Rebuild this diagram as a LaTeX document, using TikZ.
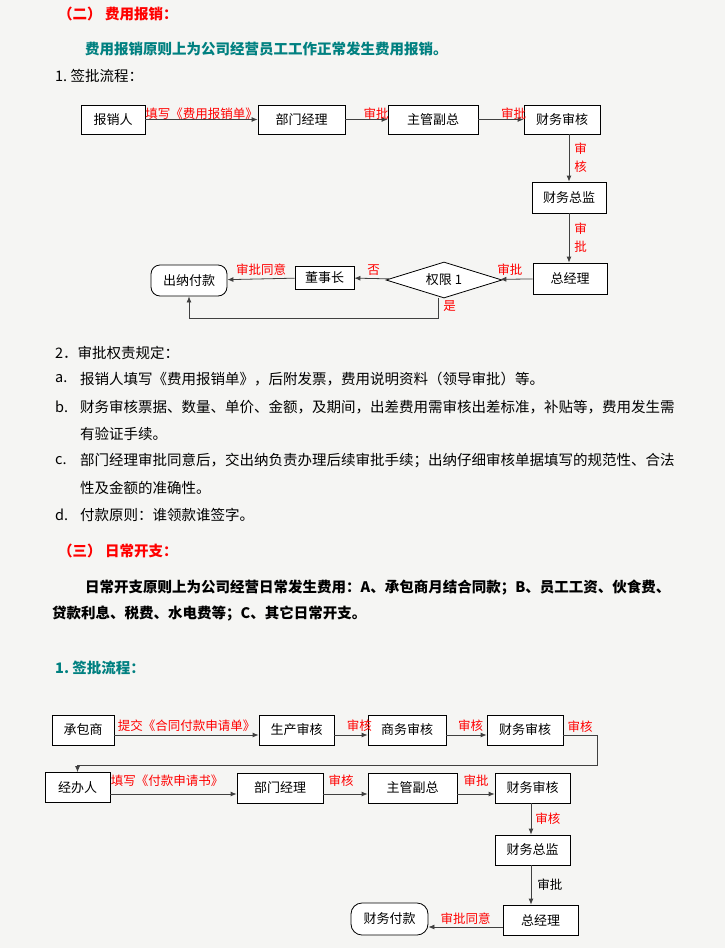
\documentclass[tikz,border=0pt]{standalone}
\usepackage{fontspec}
\setmainfont{Noto Sans CJK SC}
\usetikzlibrary{shapes.geometric,arrows.meta}
\definecolor{lbl}{RGB}{255,0,0}
\definecolor{teal}{RGB}{0,128,128}
\definecolor{paper}{RGB}{245,245,243}
\tikzset{
 bx/.style={draw,thick,fill=white,minimum height=#1,inner sep=0pt,font=\fontsize{13}{13}\selectfont},
 bx/.default=29pt,
 rnd/.style={bx,rounded corners=9pt},
 lb/.style={text=lbl,font=\fontsize{12.5}{12.5}\selectfont,inner sep=1pt},
 ar/.style={-{Latex[length=6pt,width=5pt]},thick,draw=black!75},
 tx/.style={anchor=west,inner sep=0pt,font=\fontsize{14.5}{15}\selectfont},
 hd/.style={anchor=west,inner sep=0pt,font=\fontsize{14.5}{15}\selectfont\bfseries},
}
\begin{document}
\begin{tikzpicture}[x=1pt,y=-1pt]
\fill[paper] (0,0) rectangle (725,948);
\useasboundingbox (0,0) rectangle (725,948);
% texts
\node[hd,text=lbl] (h2) at (58,14) {（二）\ 费用报销：};
\node[hd,text=teal] (p1) at (85,49) {费用报销原则上为公司经营员工工作正常发生费用报销。};
\node[tx] (s1) at (55,76) {1.\ 签批流程：};
\node[tx] (s2) at (55,353) {2．审批权责规定：};
\node[tx] (a) at (55,379) {a.};
\node[tx] (at) at (80,379) {报销人填写《费用报销单》，后附发票，费用说明资料（领导审批）等。};
\node[tx] (b) at (55,407) {b.};
\node[tx] (bt) at (80,407) {财务审核票据、数量、单价、金额，及期间，出差费用需审核出差标准，补贴等，费用发生需};
\node[tx] (bt2) at (80,434) {有验证手续。};
\node[tx] (c) at (55,461) {c.};
\node[tx] (ct) at (80,461) {部门经理审批同意后，交出纳负责办理后续审批手续；出纳仔细审核单据填写的规范性、合法};
\node[tx] (ct2) at (80,488) {性及金额的准确性。};
\node[tx] (d) at (55,515) {d.};
\node[tx] (dt) at (80,515) {付款原则：谁领款谁签字。};
\node[hd,text=lbl] (h3) at (58,551) {（三）\ 日常开支：};
\node[hd] (p2) at (85,588) {日常开支原则上为公司经营日常发生费用：A、承包商月结合同款；B、员工工资、伙食费、};
\node[hd] (p3) at (52,614) {贷款利息、税费、水电费等；C、其它日常开支。};
\node[hd,text=teal] (s3) at (55,668) {1.\ 签批流程：};
% flow 1
\node[bx,minimum width=64pt] (n1) at (113,119.5) {报销人};
\node[bx,minimum width=87pt] (n2) at (301.5,119.5) {部门经理};
\node[bx,minimum width=90pt] (n3) at (433,119.5) {主管副总};
\node[bx,minimum width=76pt] (n4) at (562,119.5) {财务审核};
\node[bx,minimum width=74pt,minimum height=31pt] (n5) at (569,197.5) {财务总监};
\node[bx,minimum width=74pt,minimum height=31pt] (n6) at (570,278.5) {总经理};
\node[diamond,aspect=3.2,draw,thick,fill=white,inner sep=1pt,minimum width=116pt,minimum height=36pt,font=\fontsize{13}{13}\selectfont] (n7) at (444,280) {权限 1};
\node[bx,minimum width=59pt,minimum height=23pt] (n8) at (324.5,277.5) {董事长};
\node[rnd,minimum width=76pt,minimum height=31pt] (n9) at (189,280.5) {出纳付款};
\draw[ar] (n1) -- node[lb,pos=0.5,above=-1pt] {填写《费用报销单》} (n2);
\draw[ar] (n2) -- node[lb,pos=0.73,above=-1pt] {审批} (n3);
\draw[ar] (n3) -- node[lb,pos=0.78,above=-1pt] {审批} (n4);
\draw[ar] (n4.south -| n5) -- node[lb,right=4pt,align=center,font=\fontsize{12.5}{18}\selectfont] {审\\核} (n5);
\draw[ar] (n5) -- node[lb,right=4pt,align=center,font=\fontsize{12.5}{18}\selectfont] {审\\批} (n6.north -| n5);
\draw[ar] (n6) -- node[lb,pos=0.7,above=2pt] {审批} (n7);
\draw[ar] (n7) -- node[lb,pos=0.45,above=2pt] {否} (n8);
\draw[ar] (n8) -- node[lb,pos=0.5,above=2pt] {审批同意} (n9);
\coordinate (y1) at (438,318);
\draw[ar] (n7.south -| y1) -- node[lb,right=4pt,pos=0.4] {是} (y1) -| (n9.south);
% flow 2
\node[bx,minimum width=62pt,minimum height=30pt] (m1) at (83,730) {承包商};
\node[bx,minimum width=75pt,minimum height=30pt] (m2) at (296.5,730) {生产审核};
\node[bx,minimum width=78pt,minimum height=30pt] (m3) at (407,730) {商务审核};
\node[bx,minimum width=76pt,minimum height=30pt] (m4) at (525,730) {财务审核};
\node[bx,minimum width=65pt,minimum height=30pt] (k1) at (77.5,787.5) {经办人};
\node[bx,minimum width=86pt,minimum height=30pt] (k2) at (280,788) {部门经理};
\node[bx,minimum width=89pt,minimum height=30pt] (k3) at (412.5,788) {主管副总};
\node[bx,minimum width=75pt,minimum height=30pt] (k4) at (532.5,788) {财务审核};
\node[bx,minimum width=75pt,minimum height=30pt] (k5) at (532.5,850) {财务总监};
\node[bx,minimum width=75pt,minimum height=30pt] (k6) at (540.5,920) {总经理};
\node[rnd,minimum width=77pt,minimum height=32pt,rounded corners=11pt] (k7) at (389.5,919) {财务付款};
\draw[ar] (m1.east |- 0,735) -- node[lb,pos=0.5,above=2pt] {提交《合同付款申请单》} (m2.west |- 0,735);
\draw[ar] (m2.east |- 0,735) -- node[lb,pos=0.75,above=2pt] {审核} (m3.west |- 0,735);
\draw[ar] (m3.east |- 0,735) -- node[lb,pos=0.6,above=2pt] {审核} (m4.west |- 0,735);
\coordinate (r1) at (597,765);
\node[lb] (l4) at (580,727) {审核};
\draw[ar] (m4.east |- 0,735) -| (r1) -| (k1.north);
\draw[ar] (k1.east |- 0,794) -- node[lb,pos=0.45,above=6pt] {填写《付款申请书》} (k2.west |- 0,794);
\draw[ar] (k2.east |- 0,794) -- node[lb,pos=0.4,above=6pt] {审核} (k3.west |- 0,794);
\draw[ar] (k3.east |- 0,794) -- node[lb,pos=0.5,above=6pt] {审批} (k4.west |- 0,794);
\draw[ar] (k4.south -| 531,0) -- node[lb,right=3pt] {审核} (k5.north -| 531,0);
\draw[ar] (k5.south -| 531,0) -- node[lb,right=5pt,text=black] {审批} (k6.north -| 531,0);
\draw[ar] (k6.west |- 0,927) -- node[lb,pos=0.5,above=1pt] {审批同意} (k7.east |- 0,927);
\end{tikzpicture}
\end{document}
